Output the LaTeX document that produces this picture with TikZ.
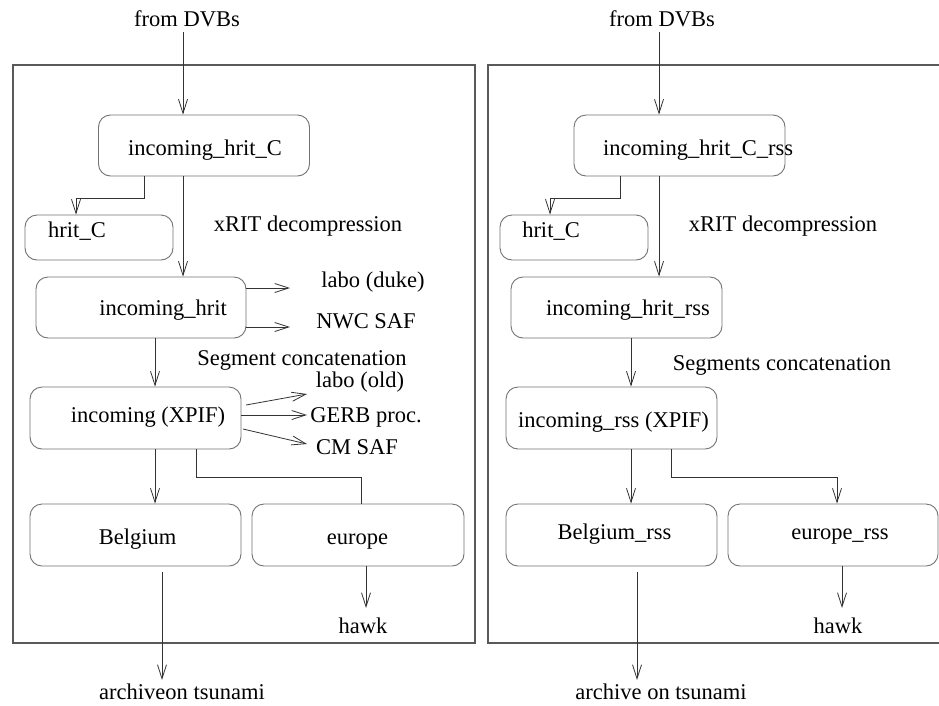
\documentclass[tikz,border=0pt]{standalone}
\usepackage{fontspec}
\setmainfont{Liberation Serif}
\usetikzlibrary{arrows.meta}
\begin{document}
\begin{tikzpicture}[x=1pt,y=-1pt,
  font=\fontsize{22.5}{27}\selectfont,
  box/.style={draw=black!55, line width=0.9pt, rounded corners=12pt, inner sep=0pt},
  frame/.style={draw=black!65, line width=1.4pt},
  conn/.style={draw=black!80, line width=0.8pt},
  arr/.style={conn, -{Straight Barb[length=14pt,width=9pt,line width=0.8pt]}},
  txt/.style={inner sep=0pt, text height=0.7em, text depth=0.2em, anchor=center, yshift=-5pt}]
\clip (0,0) rectangle (939,705);
\fill[white] (0,0) rectangle (939,705);

% ---------------- left chain ----------------
\draw[frame] (13,65) rectangle (475,643);
\node[txt] (fromL) at (187,19) {from DVBs};

\node[box, minimum width=211pt, minimum height=61pt] (hcL) at (204,145.5) {};
\node[txt] (hcLt) at (205,148) {incoming\_hrit\_C};
\node[box, minimum width=148pt, minimum height=45pt] (hrL) at (99,237.5) {};
\node[txt] (hrLt) at (77,230) {hrit\_C};
\node[box, minimum width=210pt, minimum height=61pt] (ihL) at (141,307.5) {};
\node[txt] (ihLt) at (163,308) {incoming\_hrit};
\node[box, minimum width=211pt, minimum height=62pt] (xpL) at (135.5,418) {};
\node[txt] (xpLt) at (148,415) {incoming (XPIF)};
\node[box, minimum width=211pt, minimum height=62pt] (beL) at (135.5,535) {};
\node[txt] (beLt) at (137.5,537) {Belgium};
\node[box, minimum width=212pt, minimum height=62pt] (euL) at (358,535) {};
\node[txt] (euLt) at (357.5,537) {europe};

\node[txt] (xrL) at (308,224) {xRIT decompression};
\node[txt] (dukeL) at (373,280) {labo (duke)};
\node[txt] (nwcL) at (366,321) {NWC SAF};
\node[txt] (segL) at (302,358) {Segment concatenation};
\node[txt] (oldL) at (360,380) {labo (old)};
\node[txt] (gerbL) at (366,415) {GERB proc.};
\node[txt] (cmL) at (357,447) {CM SAF};
\node[txt] (arL) at (182,692) {archiveon tsunami};
\node[txt] (hawkL) at (363,626) {hawk};

\coordinate (inL) at (183,32);
\coordinate (brL) at (144,198);
\coordinate (kL) at (76,198);
\coordinate (dL1) at (290,288);
\coordinate (dL2) at (290,327);
\coordinate (oL1) at (246,405);
\coordinate (oL2) at (307,394);
\coordinate (gL2) at (307,415);
\coordinate (cL1) at (243,429);
\coordinate (cL2) at (307,444);
\coordinate (xL) at (155,0);
\coordinate (eL) at (196,477);
\coordinate (eL2) at (361,477);
\coordinate (bL) at (162,572);
\coordinate (bL2) at (162,680);
\coordinate (hL) at (366,0);

\draw[arr] (inL) -- (inL |- hcL.north);
\draw[arr] (brL |- hcL.south) -- (brL) -- (kL) -- (kL |- hrL.north);
\draw[arr] (inL |- hcL.south) -- (inL |- ihL.north);
\draw[arr] (ihL.east |- dL1) -- (dL1);
\draw[arr] (ihL.east |- dL2) -- (dL2);
\draw[arr] (xL |- ihL.south) -- (xL |- xpL.north);
\draw[arr] (oL1) -- (oL2);
\draw[arr] (xpL.east |- gL2) -- (gL2);
\draw[arr] (cL1) -- (cL2);
\draw[arr] (xL |- xpL.south) -- (xL |- beL.north);
\draw[conn] (eL |- xpL.south) -- (eL) -- (eL2) -- (eL2 |- euL.north);
\draw[arr] (bL) -- (bL2);
\draw[arr] (hL |- euL.south) -- (366,608);

% ---------------- right chain (rss) ----------------
\draw[frame] (488,65) rectangle (950,643);
\node[txt] (fromR) at (662,19) {from DVBs};

\node[box, minimum width=211pt, minimum height=61pt] (hcR) at (679.5,145.5) {};
\node[txt] (hcRt) at (698,148) {incoming\_hrit\_C\_rss};
\node[box, minimum width=148pt, minimum height=45pt] (hrR) at (574,237.5) {};
\node[txt] (hrRt) at (551,230) {hrit\_C};
\node[box, minimum width=211pt, minimum height=61pt] (ihR) at (616.5,307.5) {};
\node[txt] (ihRt) at (628,308) {incoming\_hrit\_rss};
\node[box, minimum width=211pt, minimum height=62pt] (xpR) at (611.5,418) {};
\node[txt] (xpRt) at (613.5,420) {incoming\_rss (XPIF)};
\node[box, minimum width=211pt, minimum height=62pt] (beR) at (611.5,535) {};
\node[txt] (beRt) at (614.5,532) {Belgium\_rss};
\node[box, minimum width=210pt, minimum height=62pt] (euR) at (833,535) {};
\node[txt] (euRt) at (840,532) {europe\_rss};

\node[txt] (xrR) at (783,224) {xRIT decompression};
\node[txt] (segR) at (782,363) {Segments concatenation};
\node[txt] (arR) at (661,692) {archive on tsunami};
\node[txt] (hawkR) at (838,626) {hawk};

\coordinate (inR) at (659,32);
\coordinate (brR) at (620,198);
\coordinate (kR) at (550,198);
\coordinate (xR) at (631,0);
\coordinate (eR) at (671,477);
\coordinate (eR2) at (837,477);
\coordinate (bR) at (637,572);
\coordinate (bR2) at (637,680);
\coordinate (hR) at (842,0);

\draw[arr] (inR) -- (inR |- hcR.north);
\draw[arr] (brR |- hcR.south) -- (brR) -- (kR) -- (kR |- hrR.north);
\draw[arr] (inR |- hcR.south) -- (inR |- ihR.north);
\draw[arr] (xR |- ihR.south) -- (xR |- xpR.north);
\draw[arr] (xR |- xpR.south) -- (xR |- beR.north);
\draw[arr] (eR |- xpR.south) -- (eR) -- (eR2) -- (eR2 |- euR.north);
\draw[arr] (bR) -- (bR2);
\draw[arr] (hR |- euR.south) -- (842,608);
\end{tikzpicture}
\end{document}
